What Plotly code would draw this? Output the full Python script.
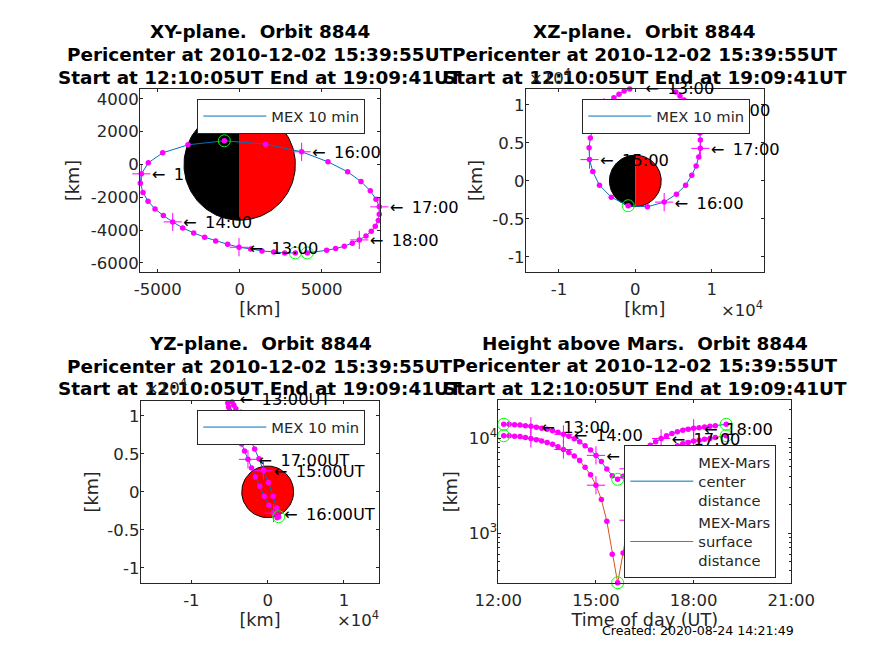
import numpy as np
import plotly.graph_objects as go

W, H = 874, 655
MARS_RADIUS = 3397

TIMES = ["12:10","12:20","12:30","12:40","12:50","13:00","13:10","13:20","13:30","13:40","13:50",
         "14:00","14:10","14:20","14:30","14:40","14:50","15:00","15:10","15:20","15:30","15:40","15:50",
         "16:00","16:10","16:20","16:30","16:40","16:50","17:00","17:10","17:20","17:30","17:40","17:50",
         "18:00","18:10","18:20","18:30","18:40","19:00"]
X_KM = [3395,2745,2074,1362,671,-40,-732,-1464,-2135,-2806,-3476,
        -4086,-4656,-5164,-5591,-5896,-6058,-5997,-5570,-4696,-3151,-935,1586,
        3781,5387,6587,7400,7969,8315,8518,8518,8457,8274,8030,7705,
        7298,6872,6384,5855,5306,4127]
Y_KM = [-5387,-5387,-5326,-5265,-5143,-5042,-4859,-4656,-4432,-4168,-3863,
        -3497,-3110,-2704,-2236,-1708,-1138,-569,102,712,1199,1443,1240,
        773,163,-447,-1037,-1606,-2114,-2582,-3029,-3415,-3761,-4066,-4351,
        -4595,-4798,-4981,-5123,-5225,-5387]
Z_KM = [12500,12665,12692,12695,12550,12250,12090,11840,11410,10950,10420,
        9700,8870,8014,6820,5640,4370,2800,1224,-568,-2141,-3277,-3409,
        -2797,-1748,-568,743,1966,3146,4283,5375,6293,7200,8138,8727,
        9376,10100,10663,11187,11712,12400]
CENTER_KM = [14030,14030,13920,13810,13580,13360,13050,12740,12430,12030,11560,
             11010,10490,9910,9215,8360,7535,6600,5675,4755,4030,3697,3990,
             4770,5670,6630,7510,8430,9180,9940,10600,11200,11740,12130,12430,
             12740,12940,13150,13360,13580,14030]
HEIGHT_KM = [10633,10633,10523,10413,10183,9963,9653,9343,9033,8633,8163,
             7613,7093,6513,5818,4963,4138,3203,2258,1337,600,300,617,
             1369,2269,3233,4113,5033,5783,6543,7203,7803,8343,8733,9033,
             9343,9543,9753,9963,10183,10633]

TITLE_HEADS = ["XY-plane.  Orbit 8844", "XZ-plane.  Orbit 8844", "YZ-plane.  Orbit 8844", "Height above Mars.  Orbit 8844"]
TITLE_L2 = "Pericenter at 2010-12-02 15:39:55UT"
TITLE_L3 = "Start at 12:10:05UT End at 19:09:41UT"
CREATED = "Created: 2020-08-24 14:21:49"

BLUE, ORANGE = "#0072BD", "#D95319"
MAGENTA, LIME = "#FF00FF", "#00FF00"
INK = "#262626"
FONT = "DejaVu Sans"

hours = [int(t[:2]) + int(t[3:]) / 60 for t in TIMES]
hour_idx = [i for i, t in enumerate(TIMES) if t.endswith(":00") and t != "19:00"]
special_idx = [0, TIMES.index("15:40"), len(TIMES) - 1]


def pick(seq, idx):
    return [seq[i] for i in idx]


fig = go.Figure()


def dom(a, b, size):
    return [a / size, b / size]


def ydom(top, bottom):
    return [1 - bottom / H, 1 - top / H]


# pixel boxes: left, right, top, bottom
BOX = {1: (140, 379.5, 89, 272), 2: (525.7, 764, 89, 272), 3: (140.7, 379.3, 400.7, 583), 4: (498.3, 791.3, 400.3, 583)}
XR = {1: [-6080, 8530], 2: [-14360, 16860], 3: [-16640, 14630], 4: [12, 21]}
YR = {1: [-6550, 4600], 2: [-12000, 12100], 3: [-12000, 12000], 4: [2.475, 4.4]}
XTV = {1: [-5000, 0, 5000], 2: [-10000, 0, 10000], 3: [-10000, 0, 10000], 4: [12, 15, 18, 21]}
XTT = {1: ["-5000", "0", "5000"], 2: ["-1", "0", "1"], 3: ["-1", "0", "1"], 4: ["12:00", "15:00", "18:00", "21:00"]}
YTV = {1: [-6000, -4000, -2000, 0, 2000, 4000], 2: [-10000, -5000, 0, 5000, 10000], 3: [-10000, -5000, 0, 5000, 10000], 4: [3, 4]}
YTT = {1: ["-6000", "-4000", "-2000", "0", "2000", "4000"], 2: ["-1", "-0.5", "0", "0.5", "1"], 3: ["-1", "-0.5", "0", "0.5", "1"],
       4: ["10<sup>3</sup>", "10<sup>4</sup>"]}
XTITLE = {1: "[km]", 2: "[km]", 3: "[km]", 4: "Time of day (UT)"}
LEG = {1: (197.3, 99), 2: (582.3, 99), 3: (197.3, 410), 4: (624.3, 445)}
YSTAND = {1: 6, 2: 5, 3: 4, 4: 6}
LABEL_LAYER = {1: 5, 2: 6, 3: 7, 4: 8}
LABEL_DROP_PX = 2.5
LABEL_HEADROOM_PX = 30

layout = dict(width=W, height=H, margin=dict(l=0, r=0, t=0, b=0, autoexpand=False), paper_bgcolor="white",
              plot_bgcolor="rgba(0,0,0,0)", font=dict(family=FONT, color=INK, size=16), showlegend=True)

for p in (1, 2, 3, 4):
    l, r, t, b = BOX[p]
    s = "" if p == 1 else str(p)
    common = dict(showline=True, linecolor=INK, linewidth=1, mirror="ticks", ticks="inside", ticklen=3, tickwidth=1,
                  tickcolor=INK, showgrid=False, zeroline=False, tickfont=dict(family=FONT, size=16.5, color=INK),
                  tickmode="array", fixedrange=True)
    layout["xaxis" + s] = dict(domain=dom(l, r, W), range=XR[p], tickvals=XTV[p], ticktext=XTT[p], anchor="y" + s,
                               ticklabelstandoff=2,
                               title=dict(text=XTITLE[p], font=dict(family=FONT, size=17.6, color=INK), standoff=2), **common)
    ya = dict(domain=ydom(t, b), range=YR[p], anchor="x" + s, tickvals=YTV[p], ticktext=YTT[p], ticklabelstandoff=-3,
              title=dict(text="[km]", font=dict(family=FONT, size=17.6, color=INK), standoff=YSTAND[p]), **common)
    if p == 4:
        ya["type"] = "log"
        ya["tickvals"] = [1000, 10000]
        ya["minor"] = dict(tickmode="array", ticks="inside", ticklen=2, tickwidth=1, tickcolor=INK,
                           tickvals=[300, 400, 500, 600, 700, 800, 900, 2000, 3000, 4000, 5000, 6000, 7000, 8000, 9000, 20000])
    layout["yaxis" + s] = ya
    lx, ly = LEG[p]
    layout["legend" + s] = dict(x=lx / W, y=1 - ly / H, xanchor="left", yanchor="top", bgcolor="white", bordercolor=INK,
                                borderwidth=1, itemwidth=63, font=dict(family=FONT, size=14.7, color=INK),
                                itemclick=False, itemdoubleclick=False)
    # Hidden label layer for this panel: same scale as the box, extra headroom, labels dropped to sit on their marker.
    h = str(LABEL_LAYER[p])
    scale = (YR[p][1] - YR[p][0]) / (b - t)
    layout["xaxis" + h] = dict(domain=dom(l, r, W), range=XR[p], anchor="y" + h, visible=False, fixedrange=True)
    hidden_y = dict(domain=ydom(t - LABEL_HEADROOM_PX + LABEL_DROP_PX, b + LABEL_DROP_PX),
                    range=[YR[p][0], YR[p][1] + LABEL_HEADROOM_PX * scale],
                    anchor="x" + h, visible=False, fixedrange=True)
    if p == 4:
        hidden_y["type"] = "log"
    layout["yaxis" + h] = hidden_y


def disc(xa, ya, colour, a0, a1):
    th = np.linspace(a0, a1, 91)
    fig.add_trace(go.Scatter(x=MARS_RADIUS * np.cos(th), y=MARS_RADIUS * np.sin(th), mode="lines", fill="toself",
                             fillcolor=colour, line=dict(color="black", width=1), showlegend=False, hoverinfo="skip",
                             xaxis=xa, yaxis=ya))


def orbit(xa, ya, xs, ys, colour, name, legend, show=True):
    fig.add_trace(go.Scatter(x=xs, y=ys, mode="lines", line=dict(color=colour, width=1), name=name, legend=legend,
                             showlegend=show, xaxis=xa, yaxis=ya))


def marks(xa, ya, xs, ys):
    fig.add_trace(go.Scatter(x=xs, y=ys, mode="markers", marker=dict(color=MAGENTA, size=5.5), showlegend=False,
                             cliponaxis=False, xaxis=xa, yaxis=ya))
    fig.add_trace(go.Scatter(x=pick(xs, hour_idx), y=pick(ys, hour_idx), mode="markers",
                             marker=dict(symbol="cross-thin", size=13, line=dict(color=MAGENTA, width=1)),
                             showlegend=False, cliponaxis=False, xaxis=xa, yaxis=ya))
    fig.add_trace(go.Scatter(x=pick(xs, special_idx), y=pick(ys, special_idx), mode="markers",
                             marker=dict(symbol="circle-open", size=12, color=LIME, line=dict(color=LIME, width=1)),
                             showlegend=False, cliponaxis=False, xaxis=xa, yaxis=ya))


def labels(p, xs, ys, suffix=""):
    h = str(LABEL_LAYER[p])
    txt = ["\u00a0\u00a0←\u00a0\u2009" + TIMES[i] + suffix for i in hour_idx]
    fig.add_trace(go.Scatter(x=pick(xs, hour_idx), y=pick(ys, hour_idx), mode="text", text=txt, textposition="middle right",
                             textfont=dict(family=FONT, size=16.3, color="black"), showlegend=False, cliponaxis=False,
                             hoverinfo="skip", xaxis="x" + h, yaxis="y" + h))


# XY
disc("x", "y", "black", np.pi / 2, 3 * np.pi / 2)
disc("x", "y", "red", -np.pi / 2, np.pi / 2)
orbit("x", "y", X_KM, Y_KM, BLUE, "MEX 10 min", "legend")
marks("x", "y", X_KM, Y_KM)
labels(1, X_KM, Y_KM)
# XZ
disc("x2", "y2", "black", np.pi / 2, 3 * np.pi / 2)
disc("x2", "y2", "red", -np.pi / 2, np.pi / 2)
orbit("x2", "y2", X_KM, Z_KM, BLUE, "MEX 10 min", "legend2")
marks("x2", "y2", X_KM, Z_KM)
labels(2, X_KM, Z_KM)
# YZ
disc("x3", "y3", "red", 0, 2 * np.pi)
orbit("x3", "y3", Y_KM, Z_KM, BLUE, "MEX 10 min", "legend3")
marks("x3", "y3", Y_KM, Z_KM)
labels(3, Y_KM, Z_KM, "UT")
# Height
orbit("x4", "y4", hours, CENTER_KM, BLUE, "MEX-Mars<br>center<br>distance", "legend4")
orbit("x4", "y4", hours, HEIGHT_KM, ORANGE, "MEX-Mars<br>surface<br>distance", "legend4")
marks("x4", "y4", hours, CENTER_KM)
marks("x4", "y4", hours, HEIGHT_KM)
labels(4, hours, CENTER_KM)

ann = []
for p, head in zip((1, 2, 3, 4), TITLE_HEADS):
    l, r, t, b = BOX[p]
    for line, dy in zip((head, TITLE_L2, TITLE_L3), (-57, -34.5, -12)):
        ann.append(dict(text=f"<b>{line}</b>", xref="paper", yref="paper", x=(l + r) / 2 / W,
                        y=1 - (t + dy) / H, xanchor="center", yanchor="middle", showarrow=False,
                        font=dict(family=FONT, size=18.4, color="black")))
for px, py in ((527, 90), (719, 322), (143, 400), (335, 632)):
    ann.append(dict(text="×10<sup>4</sup>", xref="paper", yref="paper", x=px / W, y=1 - py / H, xanchor="left",
                    yanchor="bottom", showarrow=False, font=dict(family=FONT, size=16.5, color=INK)))
ann.append(dict(text=CREATED, xref="paper", yref="paper", x=600 / W, y=1 - 630 / H, xanchor="left", yanchor="middle",
                showarrow=False, font=dict(family=FONT, size=12.6, color="black")))
layout["annotations"] = ann

fig.update_layout(**layout)
fig.write_html("out.html", post_script="document.body.style.margin='0';", config={"displayModeBar": False})
